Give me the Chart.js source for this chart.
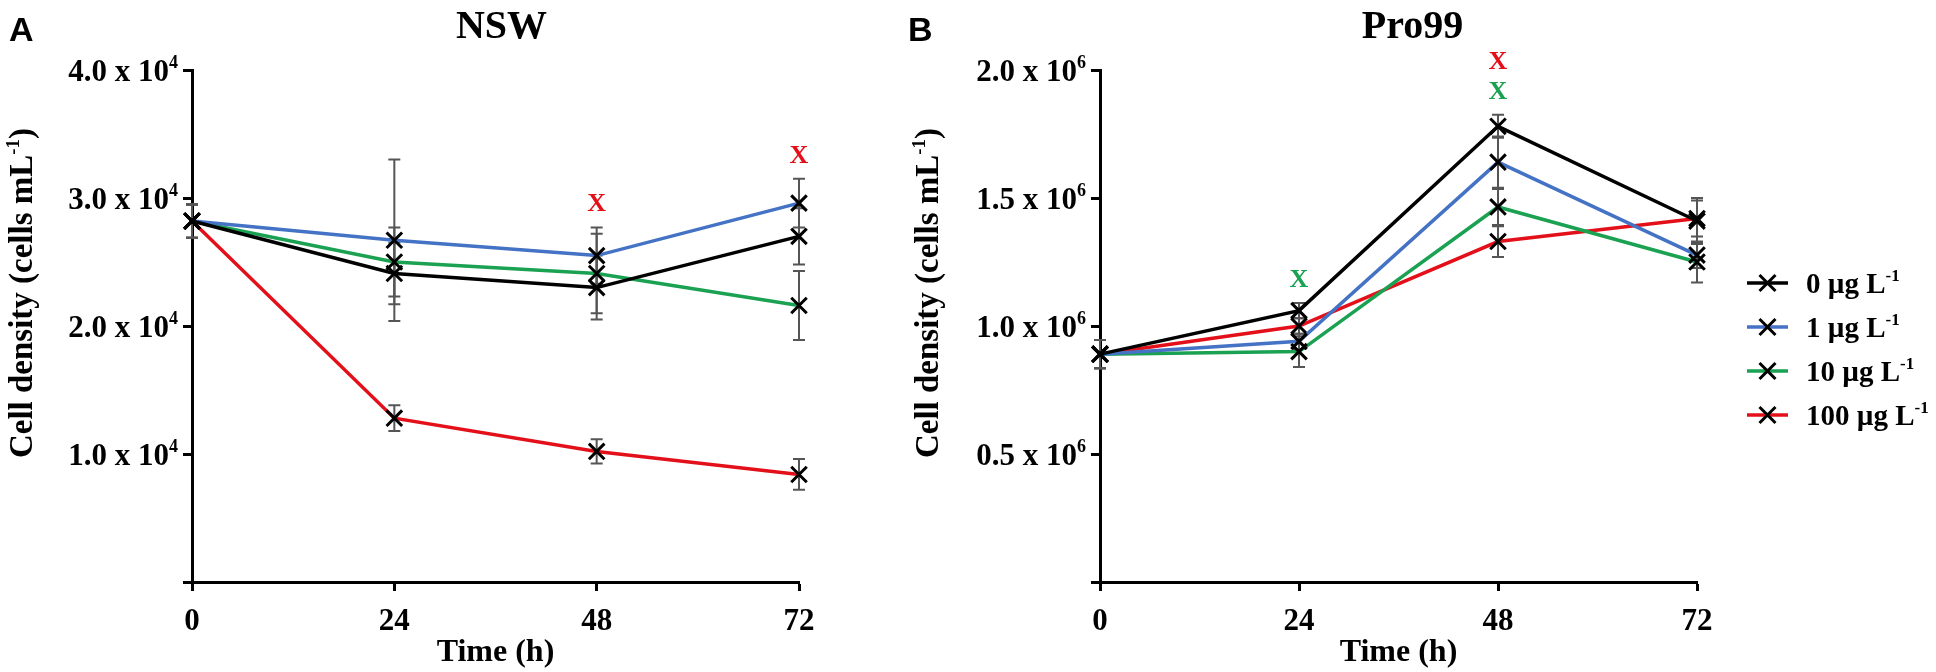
<!DOCTYPE html>
<html>
<head>
<meta charset="utf-8">
<script src="https://cdn.jsdelivr.net/npm/chart.js@4/dist/chart.umd.min.js"></script>
<style>
body { margin: 0; background: #fff; }
#wrap { position: relative; width: 1936px; height: 672px; overflow: hidden; }
#wrap canvas { position: absolute; top: 0; }
</style>
</head>
<body>
<div id="wrap">
  <canvas id="nswChart" width="880" height="672" style="left:0"></canvas>
  <canvas id="proChart" width="1056" height="672" style="left:880px"></canvas>
</div>
<script>
const times = [0, 24, 48, 72];
const doses = ['0', '1', '10', '100'];
const seriesColors = ['#000000', '#4472c4', '#1aa152', '#e3101a'];

// NSW, cells mL-1 (mean and SD)
const nsw0 = [28200, 24100, 23000, 27000];
const nsw1 = [28200, 26700, 25500, 29600];
const nsw10 = [28200, 25000, 24100, 21600];
const nsw100 = [28200, 12800, 10200, 8400];
const nsw0Err = [1300, 2400, 2500, 2200];
const nsw1Err = [1300, 6300, 2200, 1900];
const nsw10Err = [1300, 2700, 3100, 2700];
const nsw100Err = [1300, 1000, 950, 1200];
const nswTicks = [0, 10000, 20000, 30000, 40000];

// Pro99, cells mL-1 (mean and SD)
const pro0 = [890000, 1060000, 1780000, 1410000];
const pro1 = [890000, 940000, 1640000, 1277000];
const pro10 = [890000, 900000, 1465000, 1250000];
const pro100 = [890000, 1000000, 1330000, 1420000];
const pro0Err = [55000, 30000, 45000, 90000];
const pro1Err = [55000, 30000, 100000, 50000];
const pro10Err = [55000, 60000, 70000, 80000];
const pro100Err = [55000, 30000, 60000, 70000];
const proTicks = [0, 500000, 1000000, 1500000, 2000000];

// significance marks ("X") per time point, colour = treatment
const nswMarks = [{ t: 48, colors: [seriesColors[3]] }, { t: 72, colors: [seriesColors[3]] }];
const proMarks = [{ t: 24, colors: [seriesColors[2]] }, { t: 48, colors: [seriesColors[2], seriesColors[3]] }];

const SERIF = '"Liberation Serif", "Times New Roman", serif';
const SANS = '"Liberation Sans", Arial, sans-serif';

function bold(size) {
    return 'bold ' + size + 'px ' + SERIF;
}

// width of main text + superscript (+ trailing text)
function measureSup(ctx, main, sup, size, supSize, after) {
    ctx.font = bold(size);
    let w = ctx.measureText(main).width + (after ? ctx.measureText(after).width : 0);
    ctx.font = bold(supSize);
    return w + ctx.measureText(sup).width;
}

// draws main text with a raised superscript, left aligned at x on baseline y
function supText(ctx, x, y, main, sup, size, supSize, after, rise) {
    ctx.font = bold(size);
    ctx.fillText(main, x, y);
    let cx = x + ctx.measureText(main).width;
    ctx.font = bold(supSize);
    ctx.fillText(sup, cx, y - (rise || size * 0.4));
    cx += ctx.measureText(sup).width;
    if (after) {
        ctx.font = bold(size);
        ctx.fillText(after, cx, y);
    }
}

const decor = {
    id: 'decor',
    beforeDatasetsDraw(chart) {
        const { ctx, scales: { x, y } } = chart;
        ctx.save();
        ctx.strokeStyle = '#555';
        ctx.lineWidth = 2;
        chart.data.datasets.forEach(ds => {
            ds.data.forEach((p, i) => {
                const e = ds.errors[i];
                const px = x.getPixelForValue(p.x);
                const top = y.getPixelForValue(p.y + e);
                const bot = y.getPixelForValue(p.y - e);
                ctx.beginPath();
                ctx.moveTo(px, top); ctx.lineTo(px, bot);
                ctx.moveTo(px - 6, top); ctx.lineTo(px + 6, top);
                ctx.moveTo(px - 6, bot); ctx.lineTo(px + 6, bot);
                ctx.stroke();
            });
        });
        ctx.restore();
    },
    afterDraw(chart, args, o) {
        const { ctx, chartArea: area, scales: { x, y } } = chart;
        ctx.save();
        ctx.fillStyle = '#000';
        ctx.textBaseline = 'alphabetic';
        ctx.textAlign = 'left';

        // y tick labels "n.n x 10^k"
        y.ticks.forEach(t => {
            if (t.value === 0) return;
            const py = y.getPixelForValue(t.value);
            const main = (t.value / Math.pow(10, o.exp)).toFixed(1) + ' x 10';
            const w = measureSup(ctx, main, String(o.exp), 31, 18);
            supText(ctx, area.left - 14 - w, py + 11, main, String(o.exp), 31, 18, null, 13);
        });

        // y axis title, rotated
        ctx.save();
        ctx.translate(o.yTitleX, (area.top + area.bottom) / 2 - 33);
        ctx.rotate(-Math.PI / 2);
        const tw = measureSup(ctx, 'Cell density (cells mL', '-1', 33, 19, ')');
        supText(ctx, -tw / 2, 11, 'Cell density (cells mL', '-1', 33, 19, ')');
        ctx.restore();

        // panel title and letter
        ctx.textAlign = 'center';
        ctx.font = bold(40);
        ctx.fillText(o.title, (area.left + area.right) / 2 + o.titleShift, 38);
        ctx.textAlign = 'left';
        ctx.font = 'bold 34px ' + SANS;
        ctx.fillText(o.letter, o.letterX, 41);

        // significance marks above the highest error bar
        ctx.textAlign = 'center';
        ctx.font = bold(26);
        o.marks.forEach(m => {
            const i = times.indexOf(m.t);
            let hi = -Infinity;
            chart.data.datasets.forEach(ds => { hi = Math.max(hi, ds.data[i].y + ds.errors[i]); });
            const base = y.getPixelForValue(hi) - 25;
            m.colors.forEach((c, k) => {
                ctx.fillStyle = c;
                ctx.fillText('X', x.getPixelForValue(m.t), base - 30 * k + 9);
            });
        });
        ctx.fillStyle = '#000';
        ctx.textAlign = 'left';

        // legend
        if (o.legend) {
            const L = o.legend;
            chart.data.datasets.forEach((ds, i) => {
                const ly = L.top + i * 44;
                ctx.strokeStyle = ds.borderColor;
                ctx.lineWidth = 3.5;
                ctx.beginPath();
                ctx.moveTo(L.left, ly); ctx.lineTo(L.left + 41, ly);
                ctx.stroke();
                const cx = L.left + 20.5;
                ctx.strokeStyle = '#000';
                ctx.lineWidth = 3;
                ctx.beginPath();
                ctx.moveTo(cx - 8, ly - 8); ctx.lineTo(cx + 8, ly + 8);
                ctx.moveTo(cx - 8, ly + 8); ctx.lineTo(cx + 8, ly - 8);
                ctx.stroke();
                supText(ctx, L.left + 59, ly + 10, doses[i] + ' \u00b5g L', '-1', 29, 17);
            });
        }
        ctx.restore();
    }
};

function buildPanel(id, series, errors, yMax, yStep, padRight, yWidth, deco) {
    return new Chart(document.getElementById(id), {
        type: 'line',
        data: {
            datasets: series.map((vals, i) => ({
                label: doses[i] + ' \u00b5g L-1',
                data: times.map((t, j) => ({ x: t, y: vals[j] })),
                errors: errors[i],
                borderColor: seriesColors[i],
                backgroundColor: seriesColors[i],
                borderWidth: 3.5,
                tension: 0,
                pointStyle: 'crossRot',
                pointRadius: 11,
                pointHoverRadius: 11,
                pointBorderColor: '#000',
                pointBackgroundColor: '#000',
                pointBorderWidth: 3,
                clip: false,
            })),
        },
        options: {
            responsive: false,
            animation: false,
            devicePixelRatio: 1,
            layout: { padding: { left: 0, right: padRight, top: 70, bottom: 0 } },
            plugins: {
                legend: { display: false },
                tooltip: { enabled: false },
                decor: deco,
            },
            scales: {
                x: {
                    type: 'linear',
                    min: 0,
                    max: 72,
                    afterFit: s => { s.height = 90; },
                    border: { color: '#000', width: 3 },
                    grid: { drawOnChartArea: false, tickLength: 9, tickWidth: 3, tickColor: '#000' },
                    ticks: {
                        stepSize: 24,
                        color: '#000',
                        padding: 12,
                        font: { family: SERIF, size: 31, weight: 'bold' },
                    },
                    title: {
                        display: true,
                        text: 'Time (h)',
                        color: '#000',
                        padding: { top: 0, bottom: 0 },
                        font: { family: SERIF, size: 32, weight: 'bold' },
                    },
                },
                y: {
                    min: 0,
                    max: yMax,
                    afterFit: s => { s.width = yWidth; },
                    border: { color: '#000', width: 3 },
                    grid: { drawOnChartArea: false, tickLength: 9, tickWidth: 3, tickColor: '#000' },
                    ticks: { stepSize: yStep, display: false },
                },
            },
        },
        plugins: [decor],
    });
}

buildPanel('nswChart',
    [nsw0, nsw1, nsw10, nsw100],
    [nsw0Err, nsw1Err, nsw10Err, nsw100Err],
    nswTicks[nswTicks.length - 1], nswTicks[1], 81, 192,
    { exp: 4, title: 'NSW', titleShift: 6, letter: 'A', letterX: 9, yTitleX: 21, marks: nswMarks });

buildPanel('proChart',
    [pro0, pro1, pro10, pro100],
    [pro0Err, pro1Err, pro10Err, pro100Err],
    proTicks[proTicks.length - 1], proTicks[1], 239, 220,
    { exp: 6, title: 'Pro99', titleShift: 14, letter: 'B', letterX: 28, yTitleX: 47, marks: proMarks,
      legend: { left: 867, top: 283 } });
</script>
</body>
</html>
